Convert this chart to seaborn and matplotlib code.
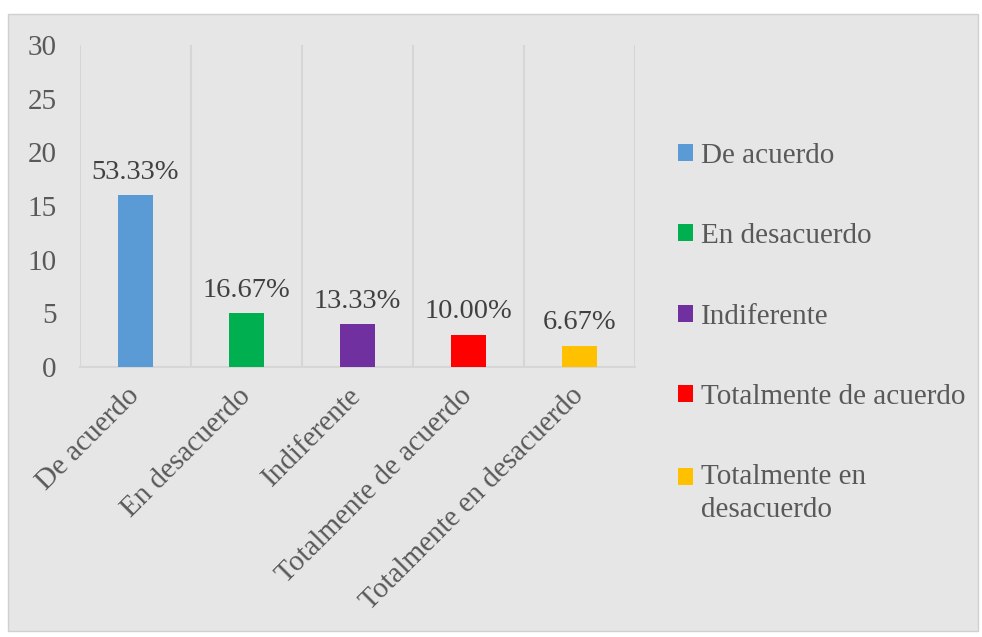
import matplotlib
matplotlib.use("Agg")
import matplotlib.pyplot as plt
import seaborn as sns
import pandas as pd
from matplotlib.patches import Patch, Rectangle

categories = ["De acuerdo", "En desacuerdo", "Indiferente",
              "Totalmente de acuerdo", "Totalmente en desacuerdo"]
counts = [16, 5, 4, 3, 2]
pct_labels = ["53.33%", "16.67%", "13.33%", "10.00%", "6.67%"]
legend_labels = ["De acuerdo", "En desacuerdo", "Indiferente",
                 "Totalmente de acuerdo", "Totalmente en\ndesacuerdo"]
colors = ["#5b9bd5", "#00b050", "#7030a0", "#ff0000", "#ffc000"]
yticks = [0, 5, 10, 15, 20, 25, 30]

sns.set_theme(style="white")
plt.rcParams["font.family"] = ["Liberation Serif", "DejaVu Serif"]

BG = "#e7e6e6"
GRID = "#d6d6d6"
TXT = "#595959"

fig = plt.figure(figsize=(9.82, 6.37), dpi=100)
fig.patch.set_facecolor("white")
fig.patches.append(Rectangle((8/982, 1-631/637), 970/982, 617/637,
                             transform=fig.transFigure, facecolor=BG,
                             edgecolor="#d0d0d0", linewidth=1, zorder=-10))

ax = fig.add_axes([80/982, 1-367/637, 555/982, 322/637])
ax.set_facecolor("none")

df = pd.DataFrame({"cat": categories, "n": counts})
sns.barplot(data=df, x="cat", y="n", hue="cat", palette=colors,
            width=0.32, saturation=1, legend=False, ax=ax, zorder=3,
            linewidth=0, edgecolor="none")

for c, lab in zip(ax.containers, pct_labels):
    ax.bar_label(c, labels=[lab], padding=7.5, fontsize=20.5, color="#404040")

ax.set_xlim(-0.5, 4.5)
ax.set_ylim(0, 30)
ax.set_yticks(yticks)
ax.set_yticklabels([str(t) for t in yticks], fontsize=21, color=TXT)
ax.set_xticks(range(len(categories)))
ax.set_xticklabels(categories, rotation=45, ha="right", va="center",
                   rotation_mode="anchor", fontsize=21, color=TXT)
ax.set_xlabel("")
ax.set_ylabel("")
ax.set_xticks([-0.5, 0.5, 1.5, 2.5, 3.5, 4.5], minor=True)
ax.grid(True, which="minor", axis="x", color=GRID, linewidth=1.5)
ax.grid(False, which="major")
ax.tick_params(axis="both", which="both", length=0)
ax.tick_params(axis="y", pad=17)
ax.tick_params(axis="x", pad=18)
for s in ["top", "right", "left"]:
    ax.spines[s].set_visible(False)
ax.spines["bottom"].set_color(GRID)
ax.spines["bottom"].set_linewidth(1.5)

handles = [Patch(facecolor=col, edgecolor="none") for col in colors]
leg = fig.legend(handles, legend_labels, loc="upper left",
                 bbox_to_anchor=(678/982, 1-143/637), frameon=False,
                 fontsize=21, labelspacing=1.86, handlelength=0.52,
                 handleheight=0.52, handletextpad=0.28, labelcolor=TXT,
                 borderpad=0, borderaxespad=0)
for t in leg.get_texts():
    t.set_linespacing(1.35)
last = leg.legend_handles[-1]
last.set_y(last.get_y() + 12)

fig.savefig("out.png", dpi=100)
